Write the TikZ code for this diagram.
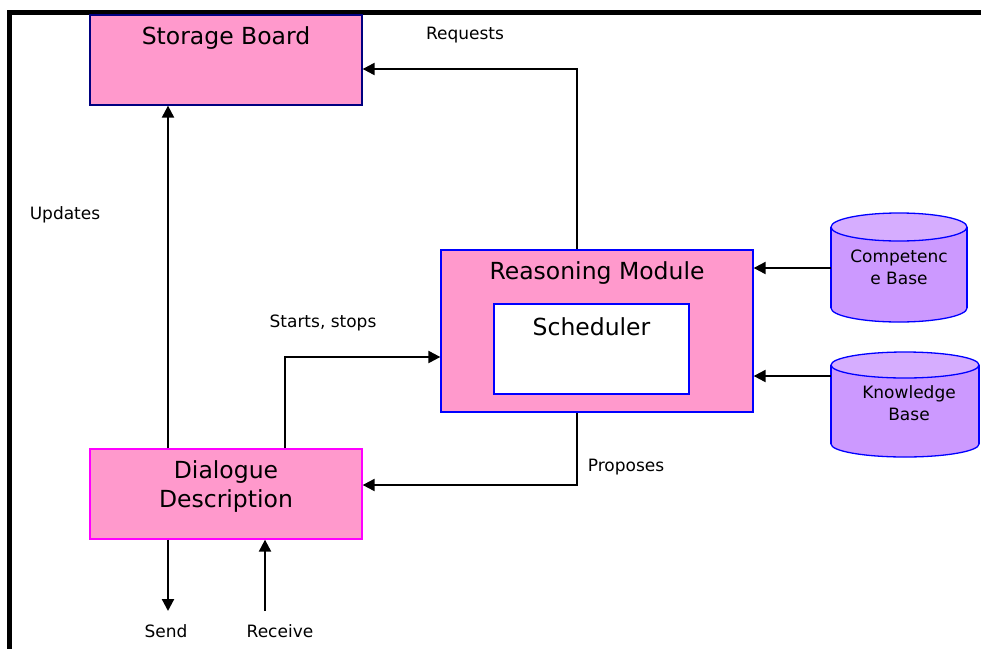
\documentclass[tikz,border=0pt]{standalone}
\usepackage{fontspec}
\setmainfont{DejaVu Sans}
\usetikzlibrary{arrows.meta}
\definecolor{pinkfill}{HTML}{FF99CC}
\definecolor{navyline}{HTML}{000080}
\definecolor{blueline}{HTML}{0000FF}
\definecolor{magline}{HTML}{FF00FF}
\definecolor{cylbody}{HTML}{CC99FF}
\definecolor{cyltop}{HTML}{D6ADFF}
\tikzset{
  boxbase/.style={draw, line width=1.3pt, fill=pinkfill, inner sep=0pt},
  ttl/.style={font=\fontsize{23.5}{29}\selectfont, align=center, inner sep=0pt},
  lbl/.style={font=\fontsize{17}{21}\selectfont, inner sep=0pt},
  cyltxt/.style={font=\fontsize{17}{22}\selectfont, align=center, inner sep=0pt},
  arr/.style={line width=2.2pt, -{Triangle[length=12pt,width=12pt]}},
  cyl/.style={draw=blueline, line width=1.3pt},
}
\begin{document}
\begin{tikzpicture}[x=1pt,y=-1pt]
\useasboundingbox (0,0) rectangle (981,648);
\clip (0,0) rectangle (981,648);
\fill[white] (0,0) rectangle (981,648);
% frame
\draw[line width=5pt] (9.5,700) -- (9.5,12.5) -- (1000,12.5);

% boxes
\node[boxbase, draw=navyline, minimum width=272pt, minimum height=90pt] (sb) at (226,60) {};
\node[ttl] (sbt) at (226,38) {Storage Board};

\node[boxbase, draw=blueline, minimum width=312pt, minimum height=162pt] (rm) at (597,331) {};
\node[ttl] (rmt) at (597,273) {Reasoning Module};
\node[draw=blueline, line width=1.3pt, fill=white, minimum width=195pt, minimum height=90pt, inner sep=0pt] (sc) at (591.5,349) {};
\node[ttl] (sct) at (591.5,327) {Scheduler};

\node[boxbase, draw=magline, minimum width=272pt, minimum height=90pt] (dd) at (226,494) {};
\node[ttl] (ddt) at (226,487) {Dialogue\\Description};

% cylinders
\fill[cylbody, cyl] (899,308) ellipse (68 and 14);
\fill[cylbody] (831,227) rectangle (967,308);
\draw[cyl] (831,227) -- (831,308) (967,227) -- (967,308);
\filldraw[fill=cyltop, cyl] (899,227) ellipse (68 and 14);
\node[minimum width=136pt, minimum height=109pt, inner sep=0pt] (cb) at (899,267.5) {};
\node[cyltxt] (cbt) at (899,267) {Competenc\\e Base};

\fill[cylbody, cyl] (905,444) ellipse (74 and 13);
\fill[cylbody] (831,365) rectangle (979,444);
\draw[cyl] (831,365) -- (831,444) (979,365) -- (979,444);
\filldraw[fill=cyltop, cyl] (905,365) ellipse (74 and 13);
\node[minimum width=148pt, minimum height=105pt, inner sep=0pt] (kb) at (905,404.5) {};
\node[cyltxt] (kbt) at (909,403) {Knowledge\\Base};

% connectors
\coordinate (rq) at (577,69);
\draw[arr] (rq |- rm.north) -- (rq) -- (rq -| sb.east);
\coordinate (up) at (168,300);
\draw[arr] (up |- dd.north) -- (up |- sb.south);
\coordinate (ss) at (285,357);
\draw[arr] (ss |- dd.north) -- (ss) -- (ss -| rm.west);
\coordinate (pp) at (577,485);
\draw[arr] (pp |- rm.south) -- (pp) -- (pp -| dd.east);
\coordinate (c1) at (800,268);
\draw[arr] (c1 -| cb.west) -- (c1 -| rm.east);
\coordinate (k1) at (800,376);
\draw[arr] (k1 -| kb.west) -- (k1 -| rm.east);
\coordinate (sd) at (168,611);
\draw[arr] (sd |- dd.south) -- (sd);
\coordinate (rc) at (265,611);
\draw[arr] (rc) -- (rc |- dd.south);

% labels
\node[lbl] (lrq) at (465,35) {Requests};
\node[lbl] (lup) at (65,215) {Updates};
\node[lbl] (lss) at (323,323) {Starts, stops};
\node[lbl] (lpp) at (626,467) {Proposes};
\node[lbl] (lsd) at (166,631) {Send};
\node[lbl] (lrc) at (280,631) {Receive};
\end{tikzpicture}
\end{document}
